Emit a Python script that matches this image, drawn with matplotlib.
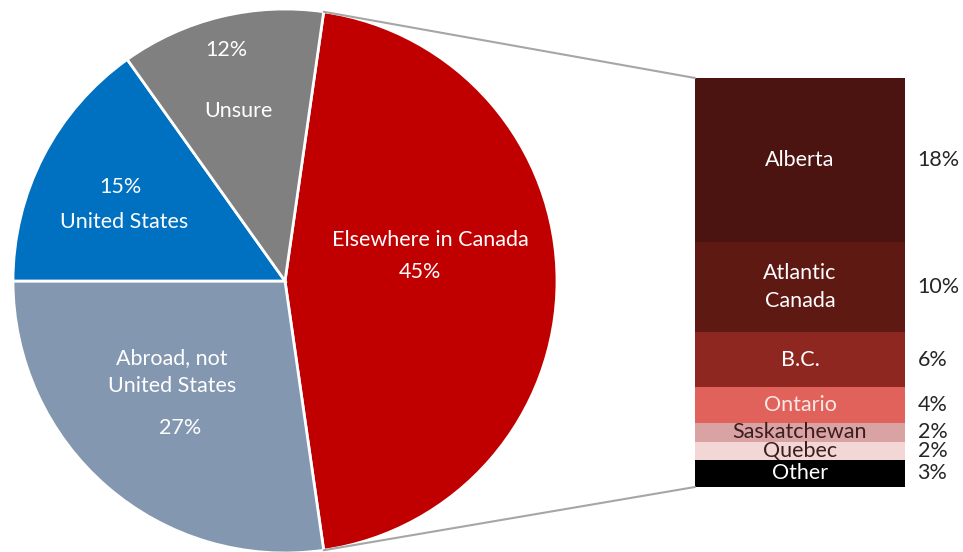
import matplotlib.pyplot as plt
from matplotlib.patches import ConnectionPatch
import numpy as np

plt.rcParams['font.family'] = ['Lato', 'DejaVu Sans']

# pie: where respondents expect to live
pie_labels = ['Elsewhere in Canada', 'Abroad, not\nUnited States', 'United States', 'Unsure']
pie_values = [45, 27, 15, 12]
pie_colors = ['#C00000', '#8497B0', '#0070C0', '#808080']

# breakdown of "Elsewhere in Canada"
bar_labels = ['Alberta', 'Atlantic\nCanada', 'B.C.', 'Ontario', 'Saskatchewan', 'Quebec', 'Other']
bar_values = [18, 10, 6, 4, 2, 2, 3]
bar_colors = ['#4C1410', '#5E1913', '#8E2720', '#E0625A', '#D9A3A3', '#F3D7D7', '#000000']
bar_text_colors = ['white', 'white', 'white', '#FBE8E6', '#3B1E1E', '#3B1E1E', 'white']

W, H = 963, 552
fig = plt.figure(figsize=(W / 100, H / 100), dpi=100)

ax1 = fig.add_axes([0, 0, 1, 1])
ax1.set_aspect('equal')

cx, cy, r = 285, H - 281, 272
start = pie_values[0] / sum(pie_values) * 180
wedges, _ = ax1.pie(pie_values, colors=pie_colors, startangle=start, counterclock=False,
                    center=(cx, cy), radius=r, frame=True,
                    wedgeprops=dict(edgecolor='white', linewidth=2))
ax1.set_xlim(0, W)
ax1.set_ylim(0, H)
ax1.axis('off')

fs = 15.5
def t(x, y, s):
    ax1.text(x, H - y, s, color='white', fontsize=fs, ha='center', va='center', linespacing=1.55)

t(226, 50, '12%')
t(238, 111, 'Unsure')
t(120, 187, '15%')
t(124, 222, 'United States')
t(430, 240, 'Elsewhere in Canada')
t(420, 272, '45%')
t(172, 372, pie_labels[1])
t(180, 428, '27%')

# stacked bar
ax2 = fig.add_axes([695 / W, (H - 487) / H, 210 / W, 409 / H])
bottoms = np.concatenate([[0], np.cumsum(bar_values)[:-1]])
ax2.bar(0, bar_values, bottom=bottoms, width=1, color=bar_colors, edgecolor='none')
ax2.set_xlim(-0.5, 0.5)
ax2.set_ylim(sum(bar_values), 0)
ax2.axis('off')
for lab, v, b, tc in zip(bar_labels, bar_values, bottoms, bar_text_colors):
    ax2.text(0, b + v / 2, lab, color=tc, fontsize=fs, ha='center', va='center', linespacing=1.55)
    ax2.annotate(f'{v}%', xy=(0.5, b + v / 2), xytext=(9, 0), textcoords='offset points',
                 fontsize=fs, ha='left', va='center', color='#262626', annotation_clip=False)

# connector lines
a = np.deg2rad(start)
top = (cx + r * np.cos(a), cy + r * np.sin(a))
bot = (cx + r * np.cos(a), cy - r * np.sin(a))
for p, q in [(top, (0, 1)), (bot, (0, 0))]:
    con = ConnectionPatch(xyA=p, coordsA=ax1.transData, xyB=q, coordsB=ax2.transAxes,
                          color='#A6A6A6', linewidth=1.5)
    fig.add_artist(con)

fig.savefig('out.png', dpi=100)
